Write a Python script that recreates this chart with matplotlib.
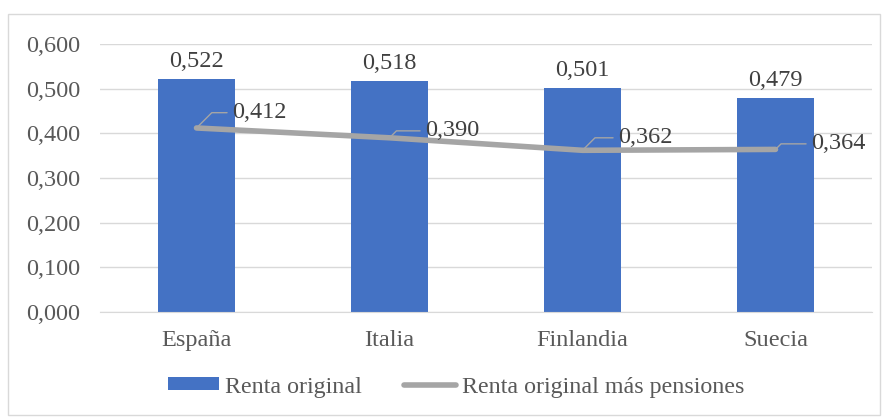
import matplotlib
matplotlib.use("Agg")
import matplotlib.pyplot as plt
from matplotlib.patches import Rectangle

categories = ["España", "Italia", "Finlandia", "Suecia"]
renta_original = [0.522, 0.518, 0.501, 0.479]
renta_pensiones = [0.412, 0.390, 0.362, 0.364]
yticks = [0.0, 0.1, 0.2, 0.3, 0.4, 0.5, 0.6]

plt.rcParams['font.family'] = ['Liberation Serif', 'DejaVu Serif']
FS = 17.5
LFS = 17.3

W, H = 888, 419
fig = plt.figure(figsize=(W / 100, H / 100), dpi=100)
ax = fig.add_axes([100 / W, 1 - 312 / H, 772 / W, 268 / H])

x = list(range(len(categories)))
bars = ax.bar(x, renta_original, width=0.4, color="#4472C4", label="Renta original", zorder=2)
line, = ax.plot(x, renta_pensiones, color="#A5A5A5", lw=4, solid_capstyle="round",
                label="Renta original más pensiones", zorder=3)

ax.set_xlim(-0.5, len(categories) - 0.5)
ax.set_ylim(0, 0.6)
ax.set_yticks(yticks)
ax.set_yticklabels([f"{v:.3f}".replace(".", ",") for v in yticks])
ax.set_xticks(x)
ax.set_xticklabels(categories)
ax.tick_params(axis="both", length=0, labelsize=FS, colors="#595959")
ax.tick_params(axis="x", pad=13)
ax.tick_params(axis="y", pad=14)
ax.grid(axis="y", color="#D9D9D9", lw=1, zorder=0)
ax.set_axisbelow(True)
for s in ["top", "right", "left"]:
    ax.spines[s].set_visible(False)
ax.spines["bottom"].set_color("#D9D9D9")

for xi, v in zip(x, renta_original):
    ax.annotate(f"{v:.3f}".replace(".", ","), (xi, v), xytext=(0, 5),
                textcoords="offset points", ha="center", va="bottom",
                fontsize=FS, color="#404040")

offs = [(12, 11), (12, 5), (12, 9), (12, 4)]
for xi, v, (dx, dy) in zip(x, renta_pensiones, offs):
    ax.annotate(f"{v:.3f}".replace(".", ","), (xi, v), xytext=(dx + 14, dy),
                textcoords="offset points", ha="left", va="center",
                fontsize=FS, color="#404040", zorder=4)
    ax.annotate("", (xi, v), xytext=(dx + 10, dy), textcoords="offset points",
                arrowprops=dict(arrowstyle="-", color="#A5A5A5", lw=1,
                                shrinkA=0, shrinkB=0,
                                connectionstyle="angle,angleA=0,angleB=45,rad=0"),
                annotation_clip=False)

leg = fig.legend([bars, line], ["Renta original", "Renta original más pensiones"],
                 loc="center left", bbox_to_anchor=(158 / W, 1 - 387 / H), ncol=2,
                 frameon=False, fontsize=LFS, handlelength=2.15, handleheight=0.45,
                 columnspacing=1.75, handletextpad=0.25, borderaxespad=0)
for t in leg.get_texts():
    t.set_color("#595959")

fig.patches.append(Rectangle((8 / W, 1 - 415 / H), 872 / W, 401 / H,
                             transform=fig.transFigure, fill=False,
                             edgecolor="#D9D9D9", lw=1))

fig.savefig("out.png", dpi=100)
